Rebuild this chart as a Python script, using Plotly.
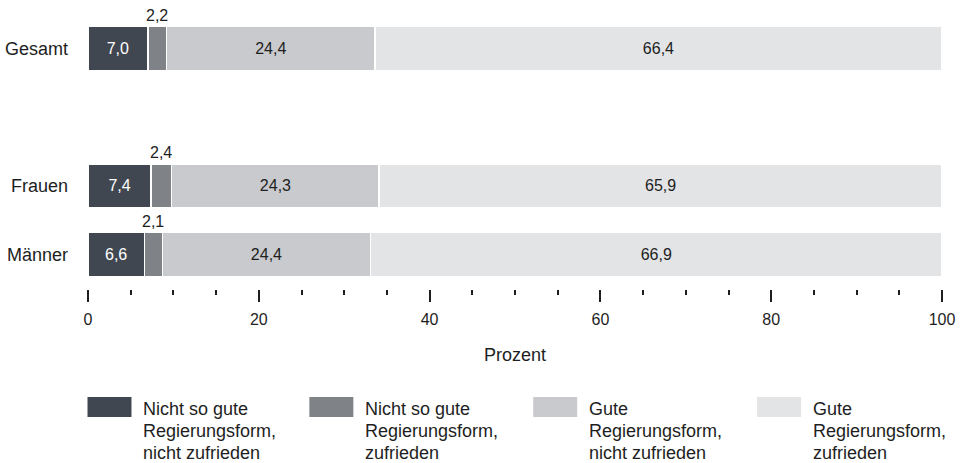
import plotly.graph_objects as go

# Data
groups = ["Gesamt", "Frauen", "Männer"]
series_names = [
    ["Nicht so gute", "Regierungsform,", "nicht zufrieden"],
    ["Nicht so gute", "Regierungsform,", "zufrieden"],
    ["Gute", "Regierungsform,", "nicht zufrieden"],
    ["Gute", "Regierungsform,", "zufrieden"],
]
nicht_gut_nicht_zufrieden = [7.0, 7.4, 6.6]
nicht_gut_zufrieden = [2.2, 2.4, 2.1]
gut_nicht_zufrieden = [24.4, 24.3, 24.4]
gut_zufrieden = [66.4, 65.9, 66.9]
x_ticks = [0, 20, 40, 60, 80, 100]

series_values = [nicht_gut_nicht_zufrieden, nicht_gut_zufrieden,
                 gut_nicht_zufrieden, gut_zufrieden]
colors = ["#414751", "#7f8286", "#c8cacd", "#e2e4e6"]
text_colors = ["#ffffff", "#1e1e1e", "#1e1e1e", "#1e1e1e"]

FONT = "Liberation Sans, Arial, sans-serif"
W, H = 964, 463
L, T = 87.5, 14
PW, PH = 854.5, 275
R, B = W - L - PW, H - T - PH


def px2paper(x, y):
    return (x - L) / PW, (T + PH - y) / PH


def fmt(v):
    return f"{v:.1f}".replace(".", ",")


fig = go.Figure()
for i, (name, vals) in enumerate(zip(series_names, series_values)):
    small = i == 1
    fig.add_trace(go.Bar(
        y=groups, x=vals, orientation="h", name=" ".join(name),
        marker=dict(color=colors[i], line=dict(color="white", width=1.5)),
        text=None if small else [fmt(v) for v in vals],
        textposition="inside", insidetextanchor="middle",
        textfont=dict(family=FONT, size=16, color=text_colors[i]),
        showlegend=False, hoverinfo="x+y",
    ))

# small segment labels above the bar
for g, a, b in zip(groups, nicht_gut_nicht_zufrieden, nicht_gut_zufrieden):
    fig.add_annotation(x=a + b / 2, y=g, text=fmt(b),
                       showarrow=False, yshift=33,
                       font=dict(family=FONT, size=16, color="#1e1e1e"))

# manual legend
legend_x = [87, 309, 533, 757]
for i, lx in enumerate(legend_x):
    x0, y0 = px2paper(lx, 397)
    x1, y1 = px2paper(lx + 44, 417)
    fig.add_shape(type="rect", xref="paper", yref="paper",
                  x0=x0, x1=x1, y0=y1, y1=y0,
                  fillcolor=colors[i], line=dict(width=0))
    for k, line in enumerate(series_names[i]):
        tx, ty = px2paper(lx + 54, 408.5 + 22 * k)
        fig.add_annotation(xref="paper", yref="paper", x=tx, y=ty,
                           xanchor="left", yanchor="middle", align="left",
                           text=line, showarrow=False,
                           font=dict(family=FONT, size=18, color="#1e1e1e"))

fig.update_layout(
    barmode="stack",
    bargap=0.36,
    width=W, height=H,
    margin=dict(l=L, r=R, t=T, b=B, pad=0, autoexpand=False),
    plot_bgcolor="white", paper_bgcolor="white",
    font=dict(family=FONT, size=16, color="#1e1e1e"),
    xaxis=dict(
        range=[0, 100], tickvals=x_ticks, showgrid=False, zeroline=False,
        showline=False, ticks="outside", ticklen=12, tickwidth=2,
        tickcolor="#1e1e1e", ticklabelstandoff=4,
        minor=dict(dtick=5, ticks="outside", ticklen=5, tickwidth=2,
                   tickcolor="#1e1e1e", showgrid=False),
        title=dict(text="Prozent", standoff=21, font=dict(size=18)),
        tickfont=dict(size=16),
    ),
    yaxis=dict(
        categoryorder="array", categoryarray=["Männer", "Frauen", " ", "Gesamt"],
        range=[-0.5, 3.5], showgrid=False, zeroline=False, showline=False,
        ticks="", ticklabelstandoff=19, tickfont=dict(size=18),
    ),
)

# drop the default body margin so the figure fills the window exactly
fig.write_html("out.html",
               config={"displayModeBar": False},
               post_script="document.body.style.margin='0';"
                           "document.body.style.overflow='hidden';")
